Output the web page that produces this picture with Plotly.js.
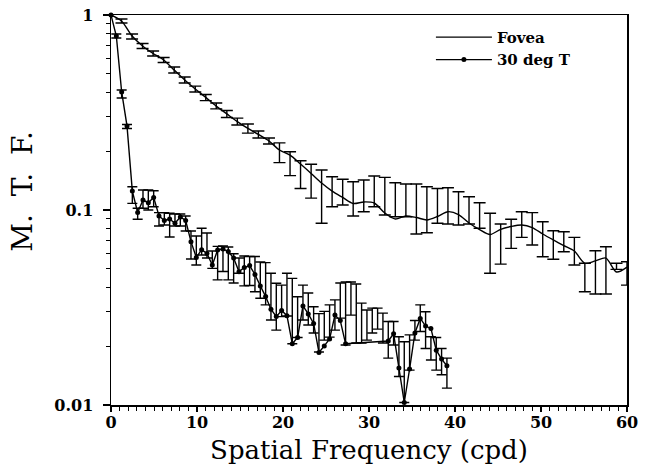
<!DOCTYPE html>
<html><head><meta charset="utf-8">
<script src="https://cdn.plot.ly/plotly-3.0.1.min.js"></script>
<style>html,body{margin:0;padding:0;background:#fff}#chart{width:649px;height:474px}</style>
</head><body><div id="chart"></div>
<script>
// ---- Fovea (smooth curve) ----
const fovFreq = [0, 1.22, 2.45, 3.67, 4.90, 6.12, 7.35, 8.57, 9.80, 11.02, 12.24, 13.47, 14.69, 15.92, 17.14, 18.37, 19.59, 20.82, 22.04, 23.27, 24.49, 25.71, 26.94, 28.16, 29.39, 30.61, 31.84, 33.06, 34.29, 35.51, 36.73, 37.96, 39.18, 40.41, 41.63, 42.86, 44.08, 45.31, 46.53, 47.76, 48.98, 50.20, 51.43, 52.65, 53.88, 55.10, 56.33, 57.55, 58.78, 60.0];
const fovMTF = [1.000, 0.932, 0.780, 0.694, 0.635, 0.588, 0.522, 0.464, 0.417, 0.378, 0.341, 0.311, 0.284, 0.262, 0.244, 0.226, 0.203, 0.191, 0.172, 0.154, 0.1375, 0.125, 0.116, 0.108, 0.110, 0.1086, 0.0965, 0.0899, 0.0932, 0.0915, 0.0889, 0.0926, 0.098, 0.0948, 0.0858, 0.0794, 0.0749, 0.0796, 0.0823, 0.0838, 0.0813, 0.0753, 0.0702, 0.0657, 0.0616, 0.0533, 0.0548, 0.0567, 0.0481, 0.0510];
// error bar bounds (points 1..49)
const fovBarHi = [0.954, 0.799, 0.714, 0.654, 0.605, 0.541, 0.481, 0.432, 0.391, 0.354, 0.324, 0.296, 0.276, 0.254, 0.234, 0.221, 0.199, 0.179, 0.1715, 0.1604, 0.148, 0.1437, 0.1397, 0.1425, 0.1494, 0.147, 0.138, 0.136, 0.136, 0.1317, 0.129, 0.130, 0.124, 0.117, 0.109, 0.0962, 0.0848, 0.0896, 0.098, 0.0969, 0.0871, 0.0783, 0.0774, 0.0724, 0.0533, 0.0618, 0.0648, 0.0533, 0.0543];
const fovBarLo = [0.910, 0.753, 0.673, 0.616, 0.571, 0.504, 0.448, 0.403, 0.364, 0.330, 0.298, 0.273, 0.248, 0.234, 0.218, 0.175, 0.150, 0.129, 0.115, 0.0855, 0.104, 0.106, 0.0932, 0.098, 0.104, 0.0943, 0.0924, 0.0924, 0.0753, 0.0765, 0.0855, 0.0848, 0.0838, 0.0848, 0.0806, 0.0474, 0.0528, 0.0636, 0.0724, 0.0661, 0.0576, 0.0559, 0.0611, 0.0522, 0.0381, 0.0371, 0.0371, 0.0496, 0.0412];

// ---- 30 deg T (line with dots) ----
const t30Freq = [0, 0.62, 1.24, 1.86, 2.48, 3.10, 3.72, 4.34, 4.96, 5.58, 6.20, 6.82, 7.44, 8.06, 8.68, 9.30, 9.92, 10.54, 11.16, 11.78, 12.40, 13.02, 13.64, 14.26, 14.88, 15.50, 16.12, 16.74, 17.36, 17.98, 18.60, 19.22, 19.84, 20.46, 21.08, 21.70, 22.32, 22.94, 23.56, 24.18, 24.80, 25.42, 26.04, 26.66, 27.28, 32.24, 32.86, 33.48, 34.10, 34.72, 35.34, 35.96, 36.58, 37.20, 37.82, 38.44, 39.06];
const t30MTF = [1.0, 0.78, 0.403, 0.270, 0.125, 0.0971, 0.1125, 0.109, 0.116, 0.0932, 0.0884, 0.0899, 0.0855, 0.0921, 0.0884, 0.0688, 0.0571, 0.0626, 0.0598, 0.0522, 0.0624, 0.0631, 0.0612, 0.0567, 0.0483, 0.0507, 0.0519, 0.0467, 0.0408, 0.0360, 0.0310, 0.0284, 0.0305, 0.0287, 0.0206, 0.0222, 0.0322, 0.0293, 0.0262, 0.0186, 0.0201, 0.0218, 0.0289, 0.0271, 0.0206, 0.0213, 0.0232, 0.0155, 0.0103, 0.0153, 0.0234, 0.0278, 0.0254, 0.0247, 0.0191, 0.0172, 0.0159];
const t30BarFreq = [0.62, 1.24, 1.86, 2.48, 3.10, 3.72, 4.34, 4.96, 5.58, 6.20, 6.82, 7.44, 8.06, 8.68, 9.30, 9.92, 10.54, 11.16, 11.78, 12.40, 13.02, 13.64, 14.26, 14.88, 15.50, 16.12, 16.74, 17.36, 17.98, 18.60, 19.22, 19.84, 20.46, 21.08, 21.70, 22.32, 22.94, 23.56, 24.18, 24.80, 25.42, 26.04, 26.66, 27.28, 27.90, 28.52, 29.14, 29.76, 30.38, 31.00, 31.62, 32.24, 32.86, 33.48, 34.10, 34.72, 35.34, 35.96, 36.58, 37.20, 37.82, 38.44, 39.06];
const t30BarHi = [0.799, 0.4125, 0.2745, 0.1317, 0.102, 0.1267, 0.1267, 0.1256, 0.0969, 0.0969, 0.0962, 0.0954, 0.0954, 0.0932, 0.078, 0.0736, 0.0806, 0.0762, 0.0616, 0.0651, 0.0654, 0.0646, 0.0597, 0.0567, 0.0581, 0.0577, 0.0577, 0.0541, 0.0537, 0.0474, 0.0421, 0.0412, 0.0474, 0.0446, 0.0359, 0.0412, 0.0375, 0.0319, 0.0294, 0.0302, 0.0326, 0.0346, 0.0422, 0.0427, 0.0427, 0.0417, 0.0333, 0.0307, 0.0314, 0.0314, 0.0296, 0.0268, 0.0268, 0.0224, 0.0211, 0.0229, 0.0271, 0.0326, 0.0301, 0.0224, 0.0222, 0.0195, 0.0174];
const t30BarLo = [0.762, 0.3753, 0.2618, 0.1082, 0.0896, 0.102, 0.100, 0.104, 0.0828, 0.0838, 0.0727, 0.0828, 0.0828, 0.078, 0.0561, 0.0522, 0.0588, 0.0567, 0.0502, 0.0438, 0.0484, 0.0438, 0.0422, 0.0474, 0.0408, 0.041, 0.0381, 0.0353, 0.0326, 0.0273, 0.0242, 0.0284, 0.0286, 0.0206, 0.0222, 0.0273, 0.0257, 0.0234, 0.0187, 0.0215, 0.0223, 0.0242, 0.0279, 0.0203, 0.0289, 0.0208, 0.0208, 0.0215, 0.0234, 0.0245, 0.0208, 0.0174, 0.0203, 0.014, 0.0103, 0.0151, 0.0215, 0.0238, 0.0195, 0.017, 0.0151, 0.0143, 0.0122];

const xTickVals = [0, 10, 20, 30, 40, 50, 60];
const yTickVals = [0.01, 0.1, 1];
const yTickText = ['0.01', '0.1', '1'];
const yMinorVals = [0.02,0.03,0.04,0.05,0.06,0.07,0.08,0.09,0.2,0.3,0.4,0.5,0.6,0.7,0.8,0.9];

function barTrace(xs, hi, lo, w) {
  return {
    x: xs, y: hi, type: 'scatter', mode: 'markers', showlegend: false, hoverinfo: 'skip',
    cliponaxis: false,
    marker: {size: 1, color: 'rgba(0,0,0,0)'},
    error_y: {type: 'data', symmetric: false,
      array: hi.map(() => 0), arrayminus: hi.map((h, i) => h - lo[i]),
      color: '#000', thickness: 1.4, width: w}
  };
}

const font = 'DejaVu Serif';
const data = [
  barTrace(fovFreq.slice(1), fovBarHi, fovBarLo, 6),
  barTrace(t30BarFreq, t30BarHi, t30BarLo, 5),
  {x: fovFreq, y: fovMTF, type: 'scatter', mode: 'lines', name: 'Fovea',
   line: {color: '#000', width: 1.4, shape: 'spline', smoothing: 0.8}},
  {x: t30Freq, y: t30MTF, type: 'scatter', mode: 'lines+markers', name: '30 deg T', cliponaxis: false,
   line: {color: '#000', width: 1.4}, marker: {color: '#000', size: 5}}
];

const layout = {
  width: 649, height: 474,
  margin: {l: 111, r: 22, t: 15, b: 69},
  paper_bgcolor: '#fff', plot_bgcolor: '#fff',
  showlegend: true,
  legend: {x: 0.62, y: 0.985, xanchor: 'left', yanchor: 'top', bgcolor: 'rgba(0,0,0,0)',
    font: {family: font, size: 15, color: '#000', weight: 'bold'}, tracegroupgap: 0, itemwidth: 56},
  xaxis: {range: [0, 60], tickmode: 'array', tickvals: xTickVals,
    showline: true, linecolor: '#000', linewidth: 1.5, mirror: true,
    ticks: 'outside', ticklen: 5, tickwidth: 1.2, tickcolor: '#000',
    minor: {dtick: 1, tick0: 0, ticks: 'outside', ticklen: 4, tickwidth: 1, tickcolor: '#000', showgrid: false},
    showgrid: false, zeroline: false, ticklabelstandoff: -3,
    tickfont: {family: font, size: 16, color: '#000', weight: 'bold'},
    title: {text: 'Spatial Frequency (cpd)', font: {family: font, size: 26, color: '#000'}, standoff: 10}},
  yaxis: {type: 'log', range: [-2, 0], tickmode: 'array', tickvals: yTickVals, ticktext: yTickText,
    showline: true, linecolor: '#000', linewidth: 1.5, mirror: true,
    ticks: 'outside', ticklen: 7, tickwidth: 1.2, tickcolor: '#000',
    minor: {tickmode: 'array', tickvals: yMinorVals, ticks: 'outside', ticklen: 4, tickwidth: 1, tickcolor: '#000', showgrid: false},
    showgrid: false, zeroline: false, ticklabelstandoff: 6,
    tickfont: {family: font, size: 16, color: '#000', weight: 'bold'}},
  annotations: [{text: 'M.  T.  F.', textangle: -90, xref: 'paper', yref: 'paper',
    x: -0.1705, y: 0.547, xanchor: 'center', yanchor: 'middle', showarrow: false,
    font: {family: font, size: 28, color: '#000'}}]
};

Plotly.newPlot('chart', data, layout, {displayModeBar: false, staticPlot: true});
</script></body></html>
